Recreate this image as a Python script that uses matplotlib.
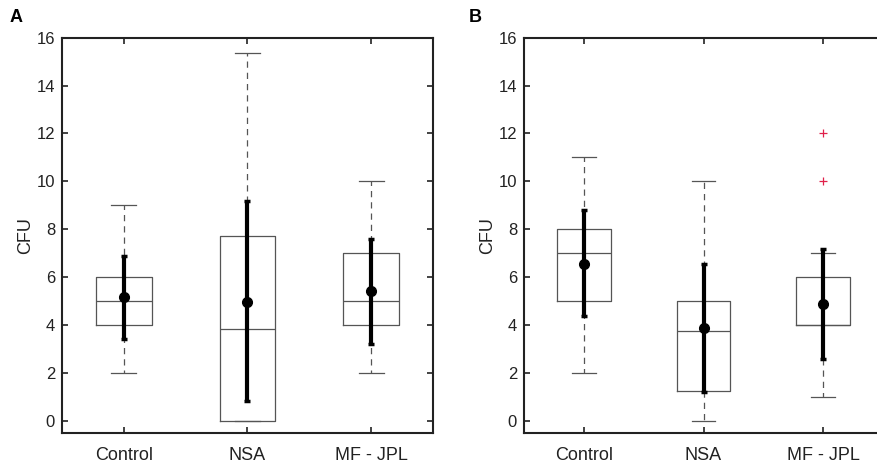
import matplotlib
matplotlib.use("Agg")
import matplotlib.pyplot as plt

plt.rcParams['font.family'] = ['Liberation Sans', 'DejaVu Sans']

categories = ["Control", "NSA", "MF - JPL"]

# Panel A
a_whislo = [2, 0, 2]
a_q1 = [4, 0, 4]
a_med = [5, 3.85, 5]
a_q3 = [6, 7.7, 7]
a_whishi = [9, 15.35, 10]
a_mean = [5.15, 4.98, 5.4]
a_err_lo = [3.4, 0.83, 3.22]
a_err_hi = [6.9, 9.17, 7.6]
a_fliers = [[], [], []]

# Panel B
b_whislo = [2, 0, 1]
b_q1 = [5, 1.25, 4]
b_med = [7, 3.75, 4]
b_q3 = [8, 5, 6]
b_whishi = [11, 10, 7]
b_mean = [6.56, 3.87, 4.87]
b_err_lo = [4.36, 1.21, 2.56]
b_err_hi = [8.79, 6.55, 7.17]
b_fliers = [[], [], [10, 12]]

fig = plt.figure(figsize=(8.77, 4.67), dpi=100)
axA = fig.add_axes([62/877, 34.3/467, 371/877, 395/467])
axB = fig.add_axes([524/877, 34.3/467, 359/877, 395/467])

box_col = '#555555'

def draw(ax, whislo, q1, med, q3, whishi, mean, elo, ehi, fliers):
    stats = []
    for i in range(3):
        stats.append(dict(whislo=whislo[i], q1=q1[i], med=med[i], q3=q3[i],
                          whishi=whishi[i], fliers=fliers[i], label=categories[i]))
    pos = [1, 2, 3]
    ax.bxp(stats, positions=pos, widths=0.45, showfliers=True,
           boxprops=dict(color=box_col, linewidth=0.9),
           medianprops=dict(color=box_col, linewidth=0.9),
           whiskerprops=dict(color=box_col, linewidth=0.9, linestyle=(0, (5, 4))),
           capprops=dict(color=box_col, linewidth=0.9),
           capwidths=0.2,
           flierprops=dict(marker='+', markeredgecolor='#e0204a', markersize=6,
                           markeredgewidth=0.9, linestyle='none'))
    yerr = [[m - l for m, l in zip(mean, elo)], [h - m for m, h in zip(mean, ehi)]]
    ax.errorbar(pos, mean, yerr=yerr, fmt='o', color='black', markersize=7,
                elinewidth=3, capsize=2.5, capthick=2.5, zorder=5)
    ax.set_xlim(0.5, 3.5)
    ax.set_ylim(-0.5, 16)
    ax.set_yticks(range(0, 17, 2))
    ax.set_xticks(pos)
    ax.set_xticklabels(categories)
    ax.tick_params(direction='in', top=True, right=True, length=4, width=1.2,
                   colors='#222222')
    ax.tick_params(axis='y', labelsize=12, pad=5)
    ax.tick_params(axis='x', labelsize=13, pad=10)
    for s in ax.spines.values():
        s.set_linewidth(1.5)
        s.set_color('#222222')
    ax.set_ylabel("CFU", fontsize=13, color='#222222', labelpad=2)

draw(axA, a_whislo, a_q1, a_med, a_q3, a_whishi, a_mean, a_err_lo, a_err_hi, a_fliers)
draw(axB, b_whislo, b_q1, b_med, b_q3, b_whishi, b_mean, b_err_lo, b_err_hi, b_fliers)

fig.text(10/877, 1 - 17/467, "A", fontsize=13, fontweight='bold', va='center', ha='left')
fig.text(469/877, 1 - 17/467, "B", fontsize=13, fontweight='bold', va='center', ha='left')

fig.savefig("out.png", dpi=100)
